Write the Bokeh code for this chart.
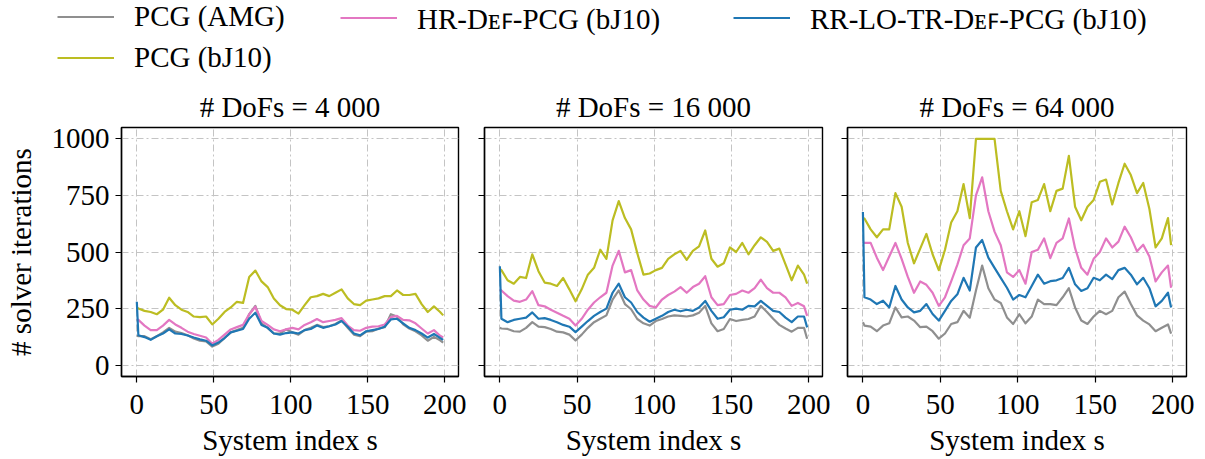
from bokeh.plotting import figure
from bokeh.layouts import column, row
from bokeh.models import Legend, LegendItem, FixedTicker, Range1d
from bokeh.embed import file_html
from bokeh.resources import INLINE

FONT = "Liberation Serif"

# ---------------- data ----------------
SERIES_NAMES = ["PCG (AMG)", "PCG (bJ10)", "HR-D\u1d07\ua730-PCG (bJ10)", "RR-LO-TR-D\u1d07\ua730-PCG (bJ10)"]
COLORS = ["#8f8f8f", "#bcbd22", "#e377c2", "#1f77b4"]
TITLES = ["# DoFs = 4 000", "# DoFs = 16 000", "# DoFs = 64 000"]
X_TICKS = [0, 50, 100, 150, 200]
Y_TICKS = [0, 250, 500, 750, 1000]

S = [0, 1, 5, 9, 13, 17, 21, 25, 29, 33, 37, 41, 45, 49, 53, 57, 61, 65, 69, 73,
     77, 81, 85, 89, 93, 97, 101, 105, 109, 113, 117, 121, 125, 129, 133, 137, 141, 145, 149, 153,
     157, 161, 165, 169, 173, 177, 181, 185, 189, 193, 197, 199]

# DoFs = 4 000
amg_4k = [130, 128, 128, 115, 128, 145, 165, 148, 142, 132, 118, 108, 105, 82, 95, 120, 145, 155, 165, 225,
          262, 185, 165, 140, 140, 158, 145, 135, 155, 165, 178, 168, 172, 182, 198, 165, 135, 128, 148, 150,
          162, 168, 225, 215, 180, 162, 150, 132, 108, 125, 110, 100]
bj_4k = [255, 250, 240, 235, 225, 245, 298, 265, 245, 235, 215, 212, 215, 180, 205, 235, 255, 280, 275, 390,
         418, 370, 345, 295, 265, 248, 245, 228, 265, 300, 305, 315, 305, 320, 335, 295, 270, 265, 285, 290,
         295, 305, 305, 330, 310, 310, 315, 270, 235, 260, 235, 220]
hr_4k = [205, 200, 175, 155, 155, 175, 200, 180, 165, 148, 138, 130, 122, 95, 112, 135, 158, 168, 178, 225,
         258, 195, 178, 158, 150, 158, 165, 158, 178, 190, 204, 190, 195, 200, 208, 175, 155, 152, 165, 170,
         172, 180, 212, 218, 200, 198, 185, 162, 140, 155, 130, 122]
rr_4k = [280, 132, 124, 112, 128, 140, 158, 140, 138, 131, 122, 114, 108, 87, 100, 120, 145, 152, 160, 205,
         232, 178, 165, 140, 135, 142, 145, 140, 155, 160, 175, 165, 172, 180, 195, 170, 140, 132, 150, 155,
         160, 170, 202, 205, 185, 165, 155, 140, 122, 138, 120, 112]

# DoFs = 16 000
amg_16k = [165, 162, 160, 150, 148, 165, 190, 170, 168, 160, 148, 145, 135, 109, 135, 165, 190, 205, 220, 290,
           330, 270, 247, 204, 185, 175, 195, 204, 215, 220, 218, 215, 220, 232, 262, 185, 150, 160, 204, 195,
           200, 204, 215, 262, 235, 205, 178, 162, 148, 165, 165, 117]
bj_16k = [425, 420, 375, 360, 390, 385, 490, 415, 365, 360, 350, 385, 335, 282, 335, 400, 430, 510, 470, 640,
          725, 650, 600, 495, 400, 405, 420, 430, 470, 490, 505, 465, 505, 525, 595, 470, 435, 450, 520, 500,
          540, 490, 530, 565, 545, 505, 515, 445, 375, 440, 400, 360]
hr_16k = [335, 330, 305, 285, 280, 290, 327, 265, 260, 245, 232, 218, 205, 175, 205, 245, 277, 300, 320, 440,
          505, 410, 420, 330, 290, 262, 255, 290, 310, 325, 345, 320, 345, 360, 393, 300, 265, 270, 310, 315,
          330, 320, 340, 378, 340, 320, 320, 300, 262, 275, 260, 218]
rr_16k = [437, 205, 190, 200, 205, 210, 233, 205, 208, 200, 190, 178, 170, 146, 170, 195, 218, 235, 250, 320,
          360, 300, 277, 235, 210, 192, 205, 218, 235, 245, 238, 245, 240, 255, 284, 240, 205, 212, 245, 250,
          245, 262, 260, 284, 262, 240, 235, 210, 190, 215, 215, 167]

# DoFs = 64 000
amg_64k = [190, 175, 170, 150, 175, 185, 255, 211, 215, 197, 168, 170, 150, 117, 140, 182, 190, 240, 210, 330,
           440, 340, 290, 275, 211, 182, 225, 185, 215, 290, 270, 270, 265, 300, 340, 255, 197, 182, 215, 240,
           225, 240, 300, 325, 270, 220, 197, 180, 150, 165, 180, 139]
bj_64k = [650, 648, 600, 565, 600, 600, 760, 700, 540, 450, 515, 580, 490, 420, 510, 630, 680, 800, 650, 1000,
          1000, 1000, 1000, 770, 680, 600, 680, 570, 720, 730, 800, 680, 770, 780, 925, 700, 640, 700, 730, 810,
          820, 710, 805, 890, 840, 760, 805, 690, 520, 560, 650, 530]
hr_64k = [545, 540, 540, 475, 420, 480, 540, 470, 390, 320, 370, 355, 320, 262, 300, 370, 444, 530, 560, 750,
          830, 680, 590, 530, 410, 390, 420, 360, 500, 510, 560, 473, 540, 560, 648, 517, 430, 400, 470, 500,
          560, 520, 546, 612, 565, 503, 532, 480, 370, 410, 440, 342]
rr_64k = [677, 300, 290, 270, 285, 255, 350, 290, 255, 233, 240, 270, 226, 197, 240, 284, 313, 386, 330, 520,
          553, 475, 430, 386, 342, 290, 310, 300, 350, 400, 360, 371, 375, 385, 430, 357, 328, 340, 386, 375,
          400, 380, 420, 430, 400, 357, 386, 340, 260, 284, 320, 255]

PANELS = [
    [amg_4k, bj_4k, hr_4k, rr_4k],
    [amg_16k, bj_16k, hr_16k, rr_16k],
    [amg_64k, bj_64k, hr_64k, rr_64k],
]

# ---------------- layout ----------------
LW = 2.2
xr = Range1d(-9.95, 208.95)
yr = Range1d(-50, 1050)

widths = [468, 364, 366]
b_left = [121, 16, 15]
b_right = [10, 10, 12]
figs = []
for i, (title, series) in enumerate(zip(TITLES, PANELS)):
    p = figure(width=widths[i], height=374, x_range=xr, y_range=yr,
               output_backend="svg", toolbar_location=None,
               min_border_left=b_left[i], min_border_right=b_right[i],
               min_border_top=41, min_border_bottom=82,
               background_fill_color="white", border_fill_color="white")
    p.title.text = title
    p.title.align = "center"
    p.title.text_font = FONT
    p.title.text_font_size = "29px"
    p.title.text_font_style = "normal"
    p.title.text_color = "black"
    p.title.standoff = 9

    p.outline_line_color = "black"
    p.outline_line_width = 1.4
    p.outline_line_alpha = 1.0

    p.xaxis.ticker = FixedTicker(ticks=X_TICKS)
    p.yaxis.ticker = FixedTicker(ticks=Y_TICKS)
    for ax in (p.xaxis, p.yaxis):
        ax.axis_line_color = "black"
        ax.axis_line_width = 1.4
        ax.major_tick_in = 0
        ax.major_tick_out = 6
        ax.major_tick_line_color = "black"
        ax.major_tick_line_width = 1.2
        ax.minor_tick_line_color = None
        ax.major_label_text_font = FONT
        ax.major_label_text_font_size = "29px"
        ax.major_label_text_color = "black"
        ax.axis_label_text_font = FONT
        ax.axis_label_text_font_size = "29px"
        ax.axis_label_text_font_style = "normal"
        ax.axis_label_text_color = "black"
    p.xaxis.major_label_standoff = 12
    p.xaxis.axis_label = "System index s"
    p.xaxis.axis_label_standoff = 7
    if i == 0:
        p.yaxis.axis_label = "# solver iterations"
        p.yaxis.major_label_standoff = 6
        p.yaxis.axis_label_standoff = 12
    else:
        p.yaxis.major_label_text_color = None
        p.yaxis.major_label_text_font_size = "1px"
        p.yaxis.major_label_standoff = 0

    for g in (p.xgrid, p.ygrid):
        g.grid_line_color = "#c4c4c4"
        g.grid_line_width = 1
        g.grid_line_dash = "7 3 2 3"

    for vals, col in zip(series, COLORS):
        p.line(S, vals, line_color=col, line_width=LW, line_join="round")
    figs.append(p)

# ---------------- legend ----------------
lf = figure(width=1198, height=84, x_range=Range1d(0, 1), y_range=Range1d(0, 1),
            output_backend="svg", toolbar_location=None,
            x_axis_type=None, y_axis_type=None,
            min_border=0, min_border_left=0, min_border_right=0,
            min_border_top=0, min_border_bottom=0,
            background_fill_color="white", border_fill_color="white")
lf.outline_line_color = None
lf.xgrid.visible = False
lf.ygrid.visible = False

# legend proxies: same data as the first panel, lying outside this strip's ranges
proxies = [lf.line(S, vals, line_color=c, line_width=LW) for vals, c in zip(PANELS[0], COLORS)]

def make_legend(idx, loc):
    lg = Legend(items=[LegendItem(label=SERIES_NAMES[k], renderers=[proxies[k]]) for k in idx],
                location=loc, orientation="vertical",
                glyph_width=57, glyph_height=29, label_height=29,
                label_standoff=20, spacing=8, padding=0, margin=0,
                border_line_color=None, background_fill_alpha=0,
                label_text_font=FONT, label_text_font_size="29px",
                label_text_color="black")
    lf.add_layout(lg)

make_legend([0, 1], (57, 10))
make_legend([2], (340, 47))
make_legend([3], (733, 47))

layout = column(lf, row(*figs, spacing=0), spacing=0)

open("out.html", "w").write(file_html(layout, INLINE))
